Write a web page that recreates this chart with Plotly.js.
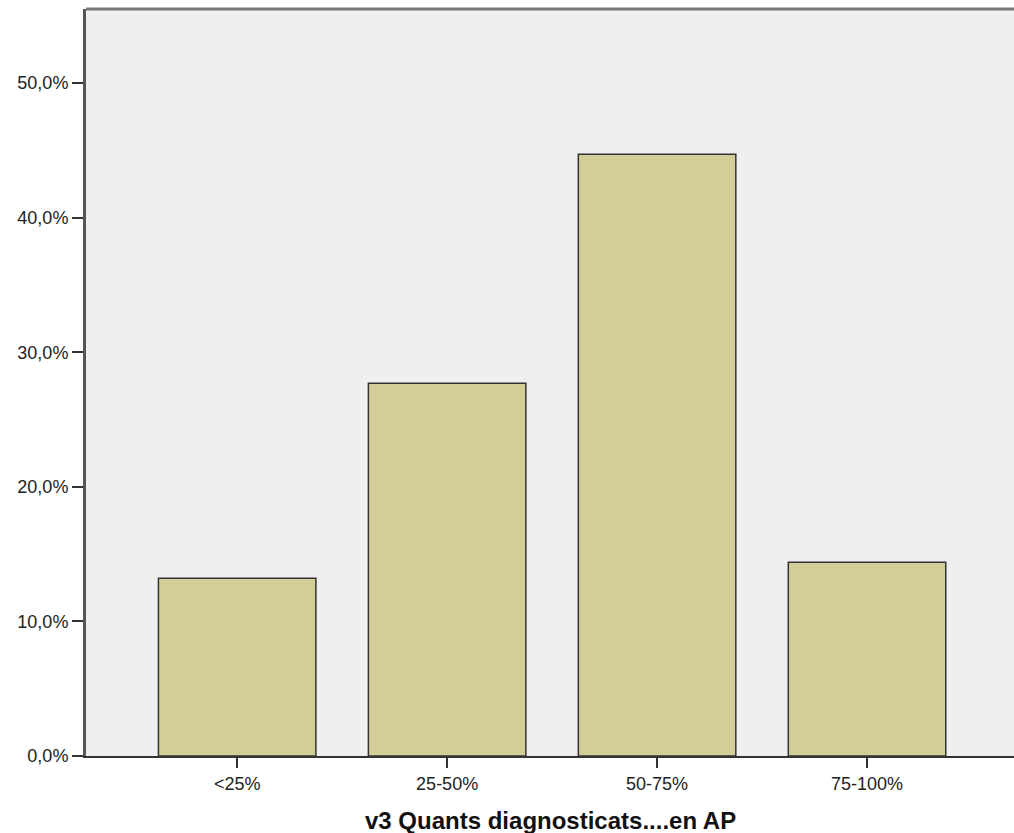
<!DOCTYPE html>
<html>
<head>
<meta charset="utf-8">
<script src="https://cdn.plot.ly/plotly-3.0.1.min.js"></script>
<style>html,body{margin:0;padding:0;background:#fff;}#chart{width:1014px;height:833px;}</style>
</head>
<body>
<div id="chart"></div>
<script>
const categories = ["<25%", "25-50%", "50-75%", "75-100%"];
const percentValues = [13.2, 27.7, 44.7, 14.4];
const yTickValues = [0, 10, 20, 30, 40, 50];
const yTickLabels = ["0,0%", "10,0%", "20,0%", "30,0%", "40,0%", "50,0%"];
const xAxisTitle = "v3 Quants diagnosticats....en AP";

const trace = {
  type: "bar",
  x: categories,
  y: percentValues,
  width: 0.75,
  marker: { color: "#d3ce98", line: { color: "#333333", width: 1.5 } },
  hoverinfo: "skip"
};

const layout = {
  width: 1014,
  height: 833,
  margin: { l: 86, r: 0, t: 9, b: 77 },
  paper_bgcolor: "#ffffff",
  plot_bgcolor: "#efefef",
  showlegend: false,
  font: { family: "Liberation Sans, Arial, sans-serif", size: 18, color: "#222" },
  xaxis: {
    type: "category",
    range: [-0.72, 3.70],
    showgrid: false,
    zeroline: false,
    showline: true,
    linecolor: "#333",
    linewidth: 2,
    ticks: "outside",
    ticklen: 10,
    tickwidth: 2,
    tickcolor: "#333",
    tickfont: { size: 18, color: "#222" },
    fixedrange: true
  },
  yaxis: {
    range: [0, 55.5],
    tickmode: "array",
    tickvals: yTickValues,
    ticktext: yTickLabels,
    showgrid: false,
    zeroline: false,
    showline: true,
    linecolor: "#555",
    linewidth: 3,
    ticks: "outside",
    ticklen: 11,
    tickwidth: 2,
    tickcolor: "#333",
    tickfont: { size: 18, color: "#222" },
    fixedrange: true
  },
  shapes: [
    { type: "line", xref: "paper", yref: "paper", x0: 0, x1: 1, y0: 1, y1: 1,
      line: { color: "#777", width: 3 } }
  ],
  annotations: [
    { text: "<b>" + xAxisTitle + "</b>", xref: "paper", yref: "paper",
      x: 0.5, y: -0.066, xanchor: "center", yanchor: "top", showarrow: false,
      font: { family: "Liberation Sans, Arial, sans-serif", size: 24, color: "#111" } }
  ]
};

Plotly.newPlot("chart", [trace], layout, { displayModeBar: false, staticPlot: true });
</script>
</body>
</html>
